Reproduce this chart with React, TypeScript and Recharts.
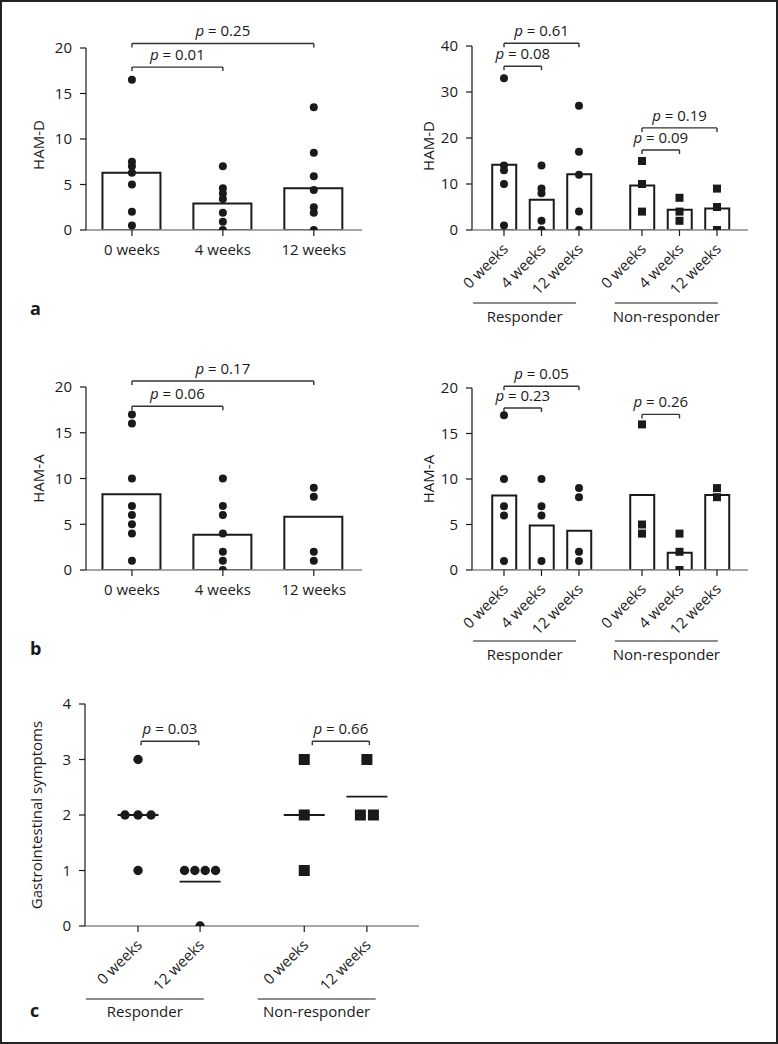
import React from 'react';
import { ComposedChart, Bar, Scatter, XAxis, YAxis, ReferenceLine } from 'recharts';

const FONT = '"Open Sans", "Noto Sans", Arial, sans-serif';
const INK = '#1a1a1a';
const AXIS_GREY = '#8a8a8a';

// ---------------- data ----------------
const weekLabels = ['0 weeks', '4 weeks', '12 weeks'];
const splitWeekLabels = ['0 weeks', '4 weeks', '12 weeks', '0 weeks', '4 weeks', '12 weeks'];
const gastroWeekLabels = ['0 weeks', '12 weeks', '0 weeks', '12 weeks'];
const groupLabels = ['Responder', 'Non-responder'];

// a (left): HAM-D, all patients
const hamdAllBars = [6.3, 2.9, 4.6];
const hamdAllWeek0 = [16.5, 7.5, 7.0, 6.3, 5.0, 2.0, 0.5];
const hamdAllWeek4 = [7.0, 4.6, 4.0, 3.4, 1.9, 0.9, 0];
const hamdAllWeek12 = [13.5, 8.5, 5.9, 4.4, 2.5, 1.9, 0];
const hamdAllP = ['0.01', '0.25'];
const hamdAllPLevel = [17.9, 20.5];

// a (right): HAM-D by response
const hamdRespBars = [14.2, 6.6, 12.1];
const hamdNonBars = [9.7, 4.4, 4.7];
const hamdRespWeek0 = [33, 14, 13, 10, 1];
const hamdRespWeek4 = [14, 9, 8, 2, 0];
const hamdRespWeek12 = [27, 17, 12, 4, 0];
const hamdNonWeek0 = [15, 10, 4];
const hamdNonWeek4 = [7, 4, 2];
const hamdNonWeek12 = [9, 5, 0];
const hamdSplitP = ['0.08', '0.61', '0.09', '0.19'];
const hamdSplitPLevel = [35.6, 40.6, 17.4, 22.2];

// b (left): HAM-A, all patients
const hamaAllBars = [8.27, 3.86, 5.83];
const hamaAllWeek0 = [17, 16, 10, 7, 6, 5, 4, 1];
const hamaAllWeek4 = [10, 7, 6, 4, 2, 1, 0];
const hamaAllWeek12 = [9, 8, 2, 1];
const hamaAllP = ['0.06', '0.17'];
const hamaAllPLevel = [17.9, 20.66];

// b (right): HAM-A by response
const hamaRespBars = [8.2, 4.9, 4.3];
const hamaNonBars = [8.25, 1.9, 8.25];
const hamaRespWeek0 = [17, 10, 7, 6, 1];
const hamaRespWeek4 = [10, 7, 6, 1];
const hamaRespWeek12 = [9, 8, 2, 1];
const hamaNonWeek0 = [16, 5, 4];
const hamaNonWeek4 = [4, 2, 0];
const hamaNonWeek12 = [9, 8];
const hamaSplitP = ['0.23', '0.05', '0.26'];
const hamaSplitPLevel = [17.8, 20.2, 17.1];

// c: gastrointestinal symptoms
const giRespWeek0 = [3, 2, 2, 2, 1];
const giRespWeek12 = [1, 1, 1, 1, 0];
const giNonWeek0 = [3, 2, 1];
const giNonWeek12 = [3, 2, 2];
const giMeans = [2, 0.8, 2, 2.33];
const giP = ['0.03', '0.66'];
const giPLevel = [3.33, 3.33];

// ---------------- layout (axis units) ----------------
const posFlat = [0, 1, 2];
const posSplit = [0, 1, 2, 3.68, 4.68, 5.68];
const posGi = [0, 1, 2.68, 3.69];

type Bracket = { text: string; x1: number; x2: number; y: number };
type DotSeries = { data: { x: number; y: number }[]; square: boolean };

const series = (x: number, vals: number[], square = false): DotSeries => ({
  data: vals.map((y) => ({ x, y })),
  square,
});

// beeswarm-like horizontal spread of tied values
const swarm = (x: number, vals: number[], square = false): DotSeries => {
  const counts: Record<string, number> = {};
  vals.forEach((v) => (counts[v] = (counts[v] || 0) + 1));
  const seen: Record<string, number> = {};
  return {
    square,
    data: vals.map((v) => {
      const n = counts[v];
      const k = seen[v] || 0;
      seen[v] = k + 1;
      const step = n > 1 ? Math.min(0.21, 0.5 / (n - 1)) : 0;
      return { x: x + (k - (n - 1) / 2) * step, y: v };
    }),
  };
};

const circleShape = (r: number) => (p: any) =>
  p.cx == null ? <g /> : <circle cx={p.cx} cy={p.cy} r={r} fill={INK} />;
const squareShape = (s: number) => (p: any) =>
  p.cx == null ? <g /> : <rect x={p.cx - s / 2} y={p.cy - s / 2} width={s} height={s} fill={INK} />;

const bracketContent = (text: string) => (props: any) => {
  const vb = props.viewBox || {};
  const x = vb.x ?? 0;
  const y = vb.y ?? 0;
  const w = vb.width ?? 0;
  return (
    <g>
      <line x1={x} y1={y} x2={x} y2={y + 4} stroke="#333" strokeWidth={1.4} />
      <line x1={x + w} y1={y} x2={x + w} y2={y + 4} stroke="#333" strokeWidth={1.4} />
      <text x={x + w / 2} y={y - 7} textAnchor="middle" fontSize={15} fontFamily={FONT} fill={INK}>
        <tspan fontStyle="italic">p</tspan> = {text}
      </text>
    </g>
  );
};

const rotatedTick = (labels: string[], positions: number[]) => (props: any) => {
  const { x, y, payload } = props;
  const i = positions.indexOf(payload.value);
  const ax = x + 5;
  const ay = y + 14;
  return (
    <text x={ax} y={ay} transform={`rotate(-45 ${ax} ${ay})`} textAnchor="end" fontSize={15} fontFamily={FONT} fill={INK}>
      {labels[i]}
    </text>
  );
};

const groupTick = (labels: string[], centers: number[], halfPx: number, textDy: number) => (props: any) => {
  const { x, y, payload } = props;
  const i = centers.indexOf(payload.value);
  return (
    <g>
      <line x1={x - halfPx} x2={x + halfPx} y1={y} y2={y} stroke={INK} strokeWidth={1.2} />
      <text x={x} y={y + textDy} textAnchor="middle" fontSize={15} fontFamily={FONT} fill={INK}>
        {labels[i]}
      </text>
    </g>
  );
};

type PanelProps = {
  left: number;
  top: number;
  width: number;
  height: number;
  margin: { top: number; right: number; bottom: number; left: number };
  xDomain: [number, number];
  yMax: number;
  yTicks: number[];
  yLabel: string;
  yLabelDx: number;
  yLabelDy: number;
  positions: number[];
  tickLabels: string[];
  rotated: boolean;
  xAxisHeight: number;
  bars?: number[];
  barSize?: number;
  dots: DotSeries[];
  dotSize: number;
  squareSize: number;
  brackets: Bracket[];
  means?: { x: number; y: number; half: number }[];
  groups?: { centers: number[]; halfPx: number; height: number; textDy: number };
};

const MAIN = 'a_main';
const GRP = 'b_grp';

function Panel(p: PanelProps) {
  const barData = p.bars ? p.positions.map((x, i) => ({ x, y: p.bars![i] })) : [];
  return (
    <div style={{ position: 'absolute', left: p.left, top: p.top }}>
      <ComposedChart width={p.width} height={p.height} data={barData} margin={p.margin}>
        <XAxis
          xAxisId={MAIN}
          dataKey="x"
          type="number"
          domain={p.xDomain}
          allowDataOverflow
          ticks={p.positions}
          interval={0}
          height={p.xAxisHeight}
          axisLine={{ stroke: AXIS_GREY, strokeWidth: 1.6 }}
          tickLine={{ stroke: INK, strokeWidth: 1.2 }}
          tickSize={6}
          tickMargin={p.rotated ? 0 : 8}
          tick={
            p.rotated
              ? rotatedTick(p.tickLabels, p.positions)
              : { fill: INK, fontSize: 15, fontFamily: FONT }
          }
          tickFormatter={(v: number) => p.tickLabels[p.positions.indexOf(v)] ?? ''}
        />
        {p.groups && (
          <XAxis
            xAxisId={GRP}
            dataKey="x"
            type="number"
            domain={p.xDomain}
            allowDataOverflow
            ticks={p.groups.centers}
            interval={0}
            height={p.groups.height}
            axisLine={false}
            tickLine={false}
            tickSize={0}
            tickMargin={0}
            tick={groupTick(groupLabels, p.groups.centers, p.groups.halfPx, p.groups.textDy)}
          />
        )}
        <YAxis
          dataKey="y"
          type="number"
          domain={[0, p.yMax]}
          allowDataOverflow
          ticks={p.yTicks}
          interval={0}
          width={40}
          axisLine={{ stroke: INK, strokeWidth: 1.2 }}
          tickLine={{ stroke: INK, strokeWidth: 1.2 }}
          tickSize={6}
          tickMargin={8}
          tick={{ fill: INK, fontSize: 15, fontFamily: FONT }}
          label={{
            value: p.yLabel,
            angle: -90,
            position: 'center',
            dx: p.yLabelDx,
            dy: p.yLabelDy,
            fontSize: 15,
            fontFamily: FONT,
            fill: INK,
          }}
        />
        {p.bars && (
          <Bar
            xAxisId={MAIN}
            dataKey="y"
            barSize={p.barSize}
            fill="#ffffff"
            stroke={INK}
            strokeWidth={2}
            isAnimationActive={false}
          />
        )}
        {p.means &&
          p.means.map((m, i) => (
            <ReferenceLine
              key={'m' + i}
              xAxisId={MAIN}
              segment={[
                { x: m.x - m.half, y: m.y },
                { x: m.x + m.half, y: m.y },
              ]}
              stroke={INK}
              strokeWidth={1.8}
              ifOverflow="visible"
            />
          ))}
        {p.dots.map((s, i) => (
          <Scatter
            key={'s' + i}
            xAxisId={MAIN}
            data={s.data}
            shape={s.square ? squareShape(p.squareSize) : circleShape(p.dotSize)}
            isAnimationActive={false}
          />
        ))}
        {p.brackets.map((b, i) => (
          <ReferenceLine
            key={'b' + i}
            xAxisId={MAIN}
            segment={[
              { x: b.x1, y: b.y },
              { x: b.x2, y: b.y },
            ]}
            stroke="#333"
            strokeWidth={1.4}
            ifOverflow="visible"
            label={bracketContent(b.text)}
          />
        ))}
      </ComposedChart>
    </div>
  );
}

export default function App() {
  const aLeftDots = [
    series(posFlat[0], hamdAllWeek0),
    series(posFlat[1], hamdAllWeek4),
    series(posFlat[2], hamdAllWeek12),
  ];
  const aRightDots = [
    series(posSplit[0], hamdRespWeek0),
    series(posSplit[1], hamdRespWeek4),
    series(posSplit[2], hamdRespWeek12),
    series(posSplit[3], hamdNonWeek0, true),
    series(posSplit[4], hamdNonWeek4, true),
    series(posSplit[5], hamdNonWeek12, true),
  ];
  const bLeftDots = [
    series(posFlat[0], hamaAllWeek0),
    series(posFlat[1], hamaAllWeek4),
    series(posFlat[2], hamaAllWeek12),
  ];
  const bRightDots = [
    series(posSplit[0], hamaRespWeek0),
    series(posSplit[1], hamaRespWeek4),
    series(posSplit[2], hamaRespWeek12),
    series(posSplit[3], hamaNonWeek0, true),
    series(posSplit[4], hamaNonWeek4, true),
    series(posSplit[5], hamaNonWeek12, true),
  ];
  const cDots = [
    swarm(posGi[0], giRespWeek0),
    swarm(posGi[1], giRespWeek12),
    swarm(posGi[2], giNonWeek0, true),
    swarm(posGi[3], giNonWeek12, true),
  ];

  const flatBrackets = (texts: string[], levels: number[]): Bracket[] => [
    { text: texts[0], x1: posFlat[0], x2: posFlat[1], y: levels[0] },
    { text: texts[1], x1: posFlat[0], x2: posFlat[2], y: levels[1] },
  ];

  return (
    <div style={{ position: 'absolute', left: 0, top: 0, width: 778, height: 1044, background: '#fff', overflow: 'hidden' }}>
      <Panel
        left={0}
        top={0}
        width={390}
        height={330}
        margin={{ top: 48, right: 28, bottom: 60, left: 46 }}
        xDomain={[-0.505, 2.53]}
        yMax={20}
        yTicks={[0, 5, 10, 15, 20]}
        yLabel="HAM-D"
        yLabelDx={-27}
        yLabelDy={6}
        positions={posFlat}
        tickLabels={weekLabels}
        rotated={false}
        xAxisHeight={40}
        bars={hamdAllBars}
        barSize={58}
        dots={aLeftDots}
        dotSize={4}
        squareSize={8}
        brackets={flatBrackets(hamdAllP, hamdAllPLevel)}
      />
      <Panel
        left={390}
        top={0}
        width={388}
        height={330}
        margin={{ top: 46, right: 30, bottom: 2, left: 42 }}
        xDomain={[-0.853, 6.507]}
        yMax={40}
        yTicks={[0, 10, 20, 30, 40]}
        yLabel="HAM-D"
        yLabelDx={-23}
        yLabelDy={8}
        positions={posSplit}
        tickLabels={splitWeekLabels}
        rotated={true}
        xAxisHeight={73}
        bars={[...hamdRespBars, ...hamdNonBars]}
        barSize={24}
        dots={aRightDots}
        dotSize={4}
        squareSize={8}
        brackets={[
          { text: hamdSplitP[0], x1: posSplit[0], x2: posSplit[1], y: hamdSplitPLevel[0] },
          { text: hamdSplitP[1], x1: posSplit[0], x2: posSplit[2], y: hamdSplitPLevel[1] },
          { text: hamdSplitP[2], x1: posSplit[3], x2: posSplit[4], y: hamdSplitPLevel[2] },
          { text: hamdSplitP[3], x1: posSplit[3], x2: posSplit[5], y: hamdSplitPLevel[3] },
        ]}
        groups={{ centers: [0.55, 4.33], halfPx: 51.5, height: 25, textDy: 19 }}
      />
      <Panel
        left={0}
        top={330}
        width={390}
        height={330}
        margin={{ top: 57, right: 28, bottom: 50, left: 46 }}
        xDomain={[-0.505, 2.53]}
        yMax={20}
        yTicks={[0, 5, 10, 15, 20]}
        yLabel="HAM-A"
        yLabelDx={-27}
        yLabelDy={0}
        positions={posFlat}
        tickLabels={weekLabels}
        rotated={false}
        xAxisHeight={40}
        bars={hamaAllBars}
        barSize={58}
        dots={bLeftDots}
        dotSize={4}
        squareSize={8}
        brackets={flatBrackets(hamaAllP, hamaAllPLevel)}
      />
      <Panel
        left={390}
        top={330}
        width={388}
        height={345}
        margin={{ top: 58, right: 30, bottom: 4, left: 42 }}
        xDomain={[-0.853, 6.507]}
        yMax={20}
        yTicks={[0, 5, 10, 15, 20]}
        yLabel="HAM-A"
        yLabelDx={-23}
        yLabelDy={0}
        positions={posSplit}
        tickLabels={splitWeekLabels}
        rotated={true}
        xAxisHeight={71}
        bars={[...hamaRespBars, ...hamaNonBars]}
        barSize={24}
        dots={bRightDots}
        dotSize={4}
        squareSize={8}
        brackets={[
          { text: hamaSplitP[0], x1: posSplit[0], x2: posSplit[1], y: hamaSplitPLevel[0] },
          { text: hamaSplitP[1], x1: posSplit[0], x2: posSplit[2], y: hamaSplitPLevel[1] },
          { text: hamaSplitP[2], x1: posSplit[3], x2: posSplit[4], y: hamaSplitPLevel[2] },
        ]}
        groups={{ centers: [0.55, 4.33], halfPx: 51.5, height: 30, textDy: 19 }}
      />
      <Panel
        left={0}
        top={660}
        width={450}
        height={384}
        margin={{ top: 44, right: 31, bottom: 15, left: 45 }}
        xDomain={[-0.855, 4.53]}
        yMax={4}
        yTicks={[0, 1, 2, 3, 4]}
        yLabel="Gastrointestinal symptoms"
        yLabelDx={-28}
        yLabelDy={0}
        positions={posGi}
        tickLabels={gastroWeekLabels}
        rotated={true}
        xAxisHeight={73}
        dots={cDots}
        dotSize={4.7}
        squareSize={11}
        means={[
          { x: posGi[0], y: giMeans[0], half: 0.33 },
          { x: posGi[1], y: giMeans[1], half: 0.33 },
          { x: posGi[2], y: giMeans[2], half: 0.33 },
          { x: posGi[3], y: giMeans[3], half: 0.33 },
        ]}
        brackets={[
          { text: giP[0], x1: 0.05, x2: 0.98, y: giPLevel[0] },
          { text: giP[1], x1: 2.81, x2: 3.73, y: giPLevel[1] },
        ]}
        groups={{ centers: [0.11, 2.88], halfPx: 59, height: 30, textDy: 18 }}
      />
      <svg width={778} height={1044} style={{ position: 'absolute', left: 0, top: 0, pointerEvents: 'none' }}>
        <rect x={1} y={1} width={776} height={1042} fill="none" stroke="#222" strokeWidth={2} />
        <text x={30} y={315} fontSize={18} fontWeight={700} fontFamily={FONT} fill={INK}>a</text>
        <text x={30} y={655} fontSize={18} fontWeight={700} fontFamily={FONT} fill={INK}>b</text>
        <text x={30} y={1017} fontSize={18} fontWeight={700} fontFamily={FONT} fill={INK}>c</text>
      </svg>
    </div>
  );
}
